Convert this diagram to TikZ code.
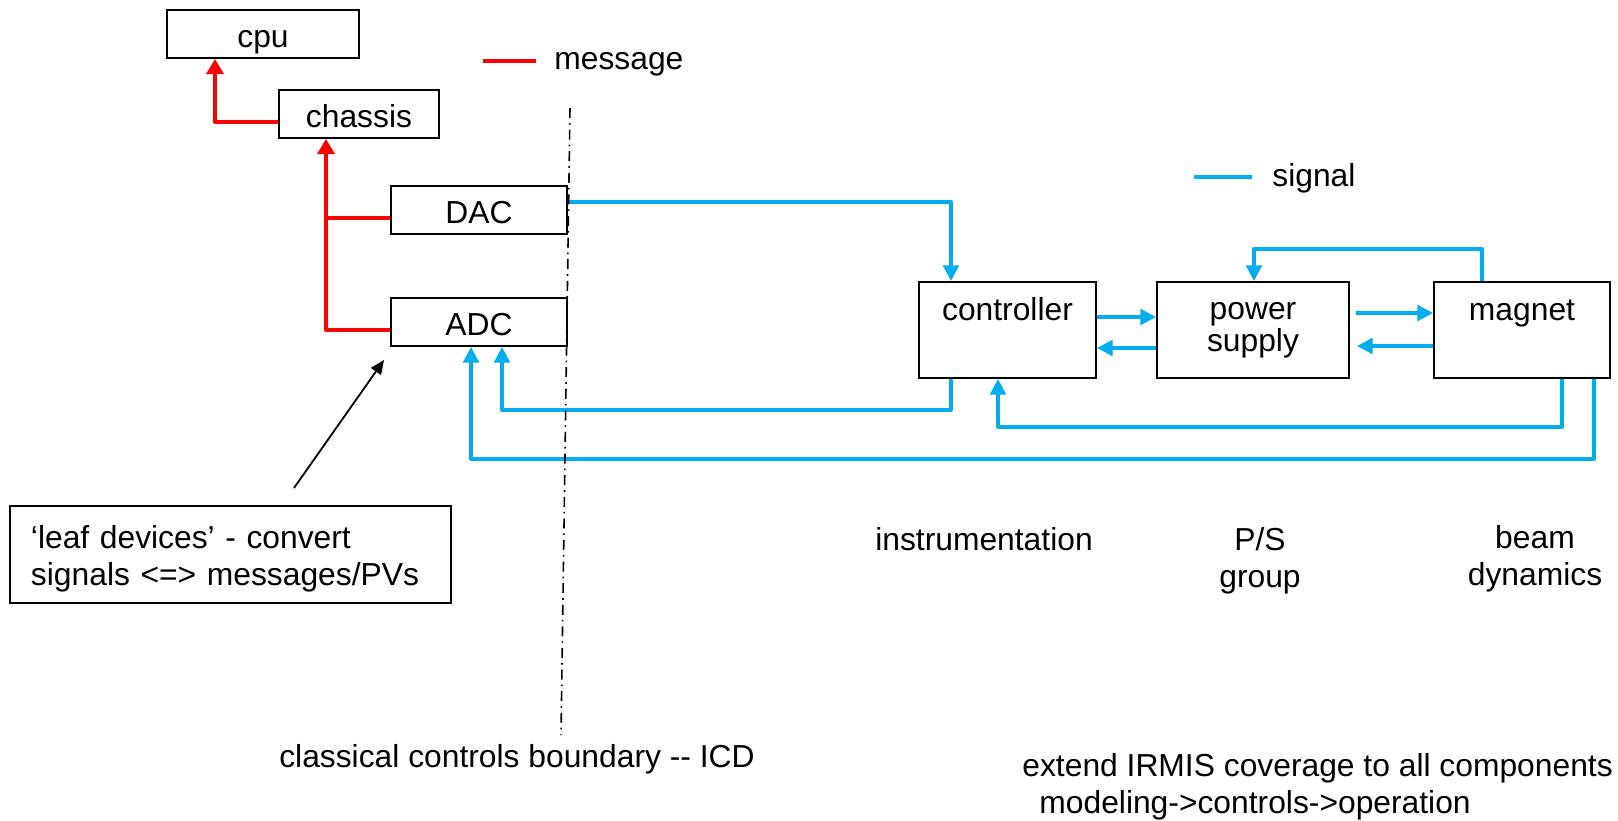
\documentclass[tikz,border=0pt]{standalone}
\usepackage{fontspec}
\setmainfont{Liberation Sans}
\usetikzlibrary{arrows.meta,calc}
\definecolor{msgred}{RGB}{255,0,0}
\definecolor{sigblue}{RGB}{0,174,239}

\begin{document}
\begin{tikzpicture}[x=0.5pt,y=-0.5pt,
  font=\fontsize{15.9}{18.5}\selectfont,
  box/.style={draw, line width=1pt, inner sep=0pt},
  card/.style={box, minimum height=24pt, text height=14pt, text depth=0.5pt},
  txt/.style={inner sep=0pt},
  msgline/.style={draw=msgred, line width=1.65pt, line join=round},
  msg/.style={msgline, -{Triangle[length=7.5pt,width=8.5pt]}},
  sig/.style={draw=sigblue, line width=1.65pt, line join=round,
    -{Triangle[length=7.8pt,width=7.8pt]}},
  note/.style={draw, line width=0.9pt, -{Triangle[length=7pt,width=6pt]}},
  bound/.style={draw, line width=0.8pt,
    dash pattern=on 5pt off 2.5pt on 0.8pt off 2.5pt}]
  \useasboundingbox (0,0) rectangle (1618,820);

  % front-end computer side
  \node[card, minimum width=96pt] (cpu) at (263,34) {cpu};
  \node[card, minimum width=80pt] (chassis) at (359,114) {chassis};
  \node[card, minimum width=88pt] (dac) at (479,210) {DAC};
  \node[card, minimum width=88pt] (adc) at (479,322) {ADC};

  % hardware chain
  \node[box, minimum width=88.5pt, minimum height=48pt,
    label={[anchor=base, yshift=-19.5pt]north:controller}] (ctrl) at (1007.5,330) {};
  \node[box, minimum width=96pt, minimum height=48pt, align=center,
    font=\fontsize{15.9}{16}\selectfont] (ps) at (1253,330) {power\\supply};
  \node[box, minimum width=88pt, minimum height=48pt,
    label={[anchor=base, yshift=-19.5pt]north:magnet}] (mag) at (1522,330) {};

  % legend
  \draw[msgline] (483,61) -- (536,61);
  \node[txt, anchor=base west] (msglbl) at (554,69) {message};
  \draw[draw=sigblue, line width=1.65pt] (1194,177) -- (1252,177);
  \node[txt, anchor=base west] (siglbl) at (1272,186) {signal};

  % message paths
  \draw[msg] ($(adc.west)+(0,8)$) -| ($(chassis.south west)+(48,0)$);
  \draw[msgline] ($(dac.west)+(0,8)$) -- ++(-64,0);
  \draw[msg] ($(chassis.west)+(0,8)$) -| ($(cpu.south west)+(49,0)$);

  % signal paths
  \draw[sig] ($(dac.east)+(0,-8)$) -| ($(ctrl.north west)+(33,0)$);
  \draw[sig] ($(ctrl.south west)+(33,0)$) -- ++(0,31) -| ($(adc.south west)+(112,0)$);
  \draw[sig] ($(mag.south west)+(161,0)$) -- ++(0,80) -| ($(adc.south west)+(81,0)$);
  \draw[sig] ($(mag.south west)+(129,0)$) -- ++(0,48) -| ($(ctrl.south west)+(80,0)$);
  \draw[sig] ($(mag.north west)+(49,0)$) -- ++(0,-32) -| ($(ps.north west)+(98,0)$);
  \draw[sig] ($(ctrl.east)+(0,-13)$) -- ($(ps.west)+(0,-13)$);
  \draw[sig] ($(ps.west)+(0,18)$) -- ($(ctrl.east)+(0,18)$);
  \draw[sig] ($(ps.east)+(6,-17)$) -- ($(mag.west)+(0,-17)$);
  \draw[sig] ($(mag.west)+(0,16)$) -- ($(ps.east)+(7,16)$);

  % boundary
  \coordinate (bndtop) at (570,108);
  \coordinate (bndbot) at (561,735);
  \draw[bound] (bndtop) -- (bndbot);
  \node[txt, anchor=base] (bndlbl) at (517,767) {classical controls boundary -{}- ICD};

  % annotation
  \node[box, minimum width=220.5pt, minimum height=48.5pt, inner xsep=10.5pt,
    text width=199.5pt, align=left] (leaf) at (230.5,554.5)
    {\rule{0pt}{16pt}‘leaf devices’ - convert\\signals <=> messages/PVs};
  \draw[note] ($(leaf.north west)+(285,-17)$) -- ($(adc.south west)+(-6,13)$);

  % groups
  \node[txt, anchor=base] (instr) at (984,550) {instrumentation};
  \node[txt, anchor=north, align=center] (psgrp) at (1260,527) {P/S\\group};
  \node[txt, anchor=north, align=center] (beam) at (1535,525) {beam\\dynamics};
  \node[txt, anchor=north west, align=left] (extend) at (1022,753)
    {extend IRMIS coverage to all components\\\hspace*{8.5pt}modeling->controls->operation};
\end{tikzpicture}
\end{document}
